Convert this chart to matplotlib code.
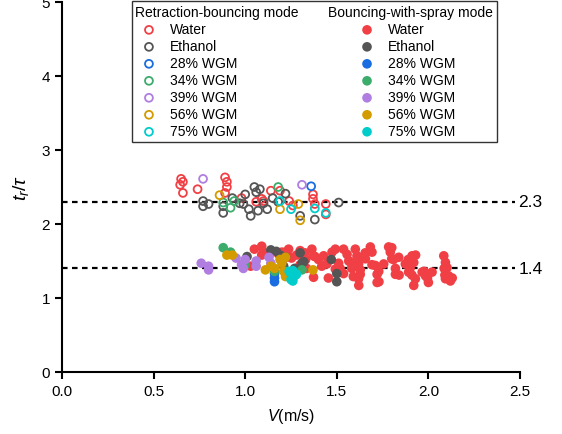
import matplotlib
matplotlib.use("Agg")
import matplotlib.pyplot as plt
from matplotlib.patches import Rectangle

plt.rcParams['font.family'] = ['Liberation Sans', 'DejaVu Sans']
plt.rcParams['mathtext.fontset'] = 'custom'
plt.rcParams['mathtext.it'] = 'Liberation Sans:italic'
plt.rcParams['mathtext.rm'] = 'Liberation Sans'

fluids = ["Water", "Ethanol", "28% WGM", "34% WGM", "39% WGM", "56% WGM", "75% WGM"]
colors = ["#f04045", "#555555", "#1a6de0", "#3cac6c", "#b07ee0", "#d39b00", "#00cccc"]

# Retraction-bouncing mode (open markers)
rb_water_x = [0.65, 0.66, 0.645, 0.66, 0.74, 0.89, 0.90, 0.90, 0.89, 1.06, 1.09, 1.14, 1.19,
              1.24, 1.26, 1.37, 1.37, 1.38, 1.44, 1.44, 1.10, 0.98]
rb_water_y = [2.61, 2.57, 2.53, 2.42, 2.47, 2.63, 2.57, 2.50, 2.42, 2.30, 2.34, 2.45, 2.45,
              2.31, 2.25, 2.40, 2.34, 2.27, 2.27, 2.13, 2.31, 2.35]
rb_eth_x = [0.77, 0.77, 0.80, 0.88, 0.88, 0.93, 0.97, 0.99, 1.02, 1.03, 1.05, 1.06, 1.08, 1.07,
            1.10, 1.12, 1.15, 1.22, 1.30, 1.38, 1.51, 1.00, 1.18]
rb_eth_y = [2.31, 2.24, 2.27, 2.15, 2.24, 2.35, 2.28, 2.27, 2.20, 2.11, 2.50, 2.43, 2.47, 2.18,
            2.28, 2.20, 2.35, 2.41, 2.11, 2.06, 2.29, 2.40, 2.30]
rb_28_x = [1.36]
rb_28_y = [2.51]
rb_34_x = [0.88, 0.94, 0.92, 1.18]
rb_34_y = [2.29, 2.31, 2.22, 2.50]
rb_39_x = [0.77, 1.31]
rb_39_y = [2.61, 2.53]
rb_56_x = [0.86, 1.19, 1.29, 1.30]
rb_56_y = [2.39, 2.20, 2.27, 2.05]
rb_75_x = [1.19, 1.25, 1.38, 1.44]
rb_75_y = [2.31, 2.20, 2.21, 2.15]

# Bouncing-with-spray mode (filled markers)
bs_water_x = [1.09, 1.10, 1.09, 1.03, 1.22, 1.25, 1.13, 1.05, 1.18, 1.20, 1.28, 1.33, 1.30,
              1.20, 1.237, 1.30, 1.364, 1.373, 1.428, 1.446, 1.474, 1.492, 1.537, 1.556, 1.565,
              1.583, 1.601, 1.61, 1.619, 1.628, 1.619, 1.656, 1.683, 1.692, 1.71, 1.72, 1.72,
              1.756, 1.783, 1.792, 1.80, 1.82, 1.838, 1.874, 1.892, 1.911, 1.92, 1.929, 1.966,
              1.984, 2.00, 2.02, 2.084, 2.093, 2.102, 2.11, 2.12, 2.093, 1.373, 1.492,
              1.253, 1.326, 1.317, 1.335, 1.381, 1.40, 1.418, 1.454, 1.51, 1.518, 1.537,
              1.573, 1.582, 1.59, 1.62, 1.628, 1.62, 1.655, 1.692, 1.729, 1.73, 1.80, 1.81,
              1.82, 1.84, 1.89, 1.90, 1.91, 1.92, 1.93, 1.976, 1.995, 2.086, 2.13, 2.09]
bs_water_y = [1.70, 1.62, 1.58, 1.43, 1.62, 1.55, 1.58, 1.66, 1.60, 1.50, 1.58, 1.52, 1.45,
              1.62, 1.66, 1.64, 1.66, 1.57, 1.57, 1.46, 1.62, 1.66, 1.66, 1.59, 1.50,
              1.41, 1.66, 1.57, 1.46, 1.32, 1.26, 1.53, 1.69, 1.62, 1.44, 1.32, 1.21,
              1.46, 1.69, 1.62, 1.53, 1.32, 1.55, 1.46, 1.35, 1.57, 1.48, 1.26, 1.35,
              1.30, 1.21, 1.35, 1.57, 1.48, 1.41, 1.30, 1.23, 1.26, 1.28, 1.39,
              1.54, 1.61, 1.52, 1.40, 1.56, 1.52, 1.43, 1.27, 1.47, 1.40, 1.33,
              1.49, 1.40, 1.29, 1.52, 1.38, 1.17, 1.61, 1.45, 1.36, 1.22, 1.68, 1.52,
              1.40, 1.31, 1.52, 1.40, 1.31, 1.17, 1.58, 1.36, 1.27, 1.40, 1.27, 1.31]
bs_eth_x = [1.01, 1.14, 1.17, 1.19, 1.22, 1.30, 1.31, 1.32, 1.47, 1.50, 1.50, 1.21, 1.27]
bs_eth_y = [1.56, 1.65, 1.63, 1.58, 1.55, 1.61, 1.47, 1.49, 1.52, 1.33, 1.22, 1.43, 1.40]
bs_28_x = [1.16, 1.16, 1.16]
bs_28_y = [1.33, 1.27, 1.22]
bs_34_x = [0.88, 0.92, 1.00, 1.16, 1.31, 1.22]
bs_34_y = [1.68, 1.62, 1.45, 1.36, 1.38, 1.36]
bs_39_x = [0.76, 0.80, 0.80, 0.95, 0.99, 1.00, 1.06, 1.06, 1.13, 1.14, 0.98]
bs_39_y = [1.47, 1.43, 1.38, 1.54, 1.40, 1.52, 1.50, 1.43, 1.55, 1.47, 1.45]
bs_56_x = [0.90, 0.93, 1.11, 1.14, 1.19, 1.22, 1.20, 1.21, 1.22, 1.37, 1.16]
bs_56_y = [1.58, 1.58, 1.38, 1.43, 1.52, 1.55, 1.47, 1.36, 1.29, 1.38, 1.40]
bs_75_x = [1.24, 1.25, 1.26, 1.27, 1.25, 1.26, 1.28]
bs_75_y = [1.36, 1.33, 1.37, 1.30, 1.25, 1.23, 1.32]

ref_values = [2.3, 1.4]
ref_labels = ["2.3", "1.4"]

rb_sets = [(rb_water_x, rb_water_y), (rb_eth_x, rb_eth_y), (rb_28_x, rb_28_y), (rb_34_x, rb_34_y),
           (rb_39_x, rb_39_y), (rb_56_x, rb_56_y), (rb_75_x, rb_75_y)]
bs_sets = [(bs_water_x, bs_water_y), (bs_eth_x, bs_eth_y), (bs_28_x, bs_28_y), (bs_34_x, bs_34_y),
           (bs_39_x, bs_39_y), (bs_56_x, bs_56_y), (bs_75_x, bs_75_y)]

W, H = 562, 435
fig = plt.figure(figsize=(W / 100, H / 100), dpi=100)
ax = fig.add_axes([62 / W, 1 - 373 / H, (520 - 62) / W, (373 - 3) / H])

for v, lab in zip(ref_values, ref_labels):
    ax.plot([0, 2.475], [v, v], color="black", ls=(0, (2.5, 2)), lw=1.6, zorder=1, clip_on=False)
    ax.text(2.49, v, lab, fontsize=12.5, va="center", ha="left")

rb_handles = []
for (x, y), c in zip(rb_sets, colors):
    h = ax.scatter(x, y, s=32, facecolors="none", edgecolors=c, linewidths=1.3, zorder=3)
    rb_handles.append(h)
bs_handles = []
for (x, y), c in zip(bs_sets, colors):
    h = ax.scatter(x, y, s=48, color=c, edgecolors="none", zorder=4)
    bs_handles.append(h)

ax.set_xlim(0, 2.5)
ax.set_ylim(0, 5)
ax.set_xticks([0, 0.5, 1.0, 1.5, 2.0, 2.5])
ax.set_xticklabels(["0.0", "0.5", "1.0", "1.5", "2.0", "2.5"])
ax.set_yticks([0, 1, 2, 3, 4, 5])
for s in ["top", "right"]:
    ax.spines[s].set_visible(False)
for s in ["left", "bottom"]:
    ax.spines[s].set_linewidth(1.5)
ax.tick_params(direction="out", length=5, width=1.5, labelsize=11)
ax.set_xlabel(r"$V$(m/s)", fontsize=11.5, labelpad=6)
ax.set_ylabel(r"$t_r/\tau$", fontsize=14, labelpad=8)

handles = rb_handles + bs_handles
labels = fluids + fluids
leg = fig.legend(handles, labels, ncol=2, loc="upper left",
                 bbox_to_anchor=(142 / W, 1 - 23.5 / H), bbox_transform=fig.transFigure,
                 frameon=False, fontsize=10, borderpad=0, borderaxespad=0,
                 handlelength=1.0, handletextpad=1.0, columnspacing=8.85,
                 labelspacing=0.215, scatterpoints=1)

fig.text(135 / W, 1 - 13 / H, "Retraction-bouncing mode", fontsize=10, va="center", ha="left")
fig.text(328 / W, 1 - 13 / H, "Bouncing-with-spray mode", fontsize=10, va="center", ha="left")
fig.patches.append(Rectangle((132 / W, 1 - 143 / H), (497 - 132) / W, (143 - 2) / H,
                             transform=fig.transFigure, fill=False, edgecolor="#333333",
                             linewidth=1.0, zorder=5))

fig.savefig("out.png", dpi=100)
